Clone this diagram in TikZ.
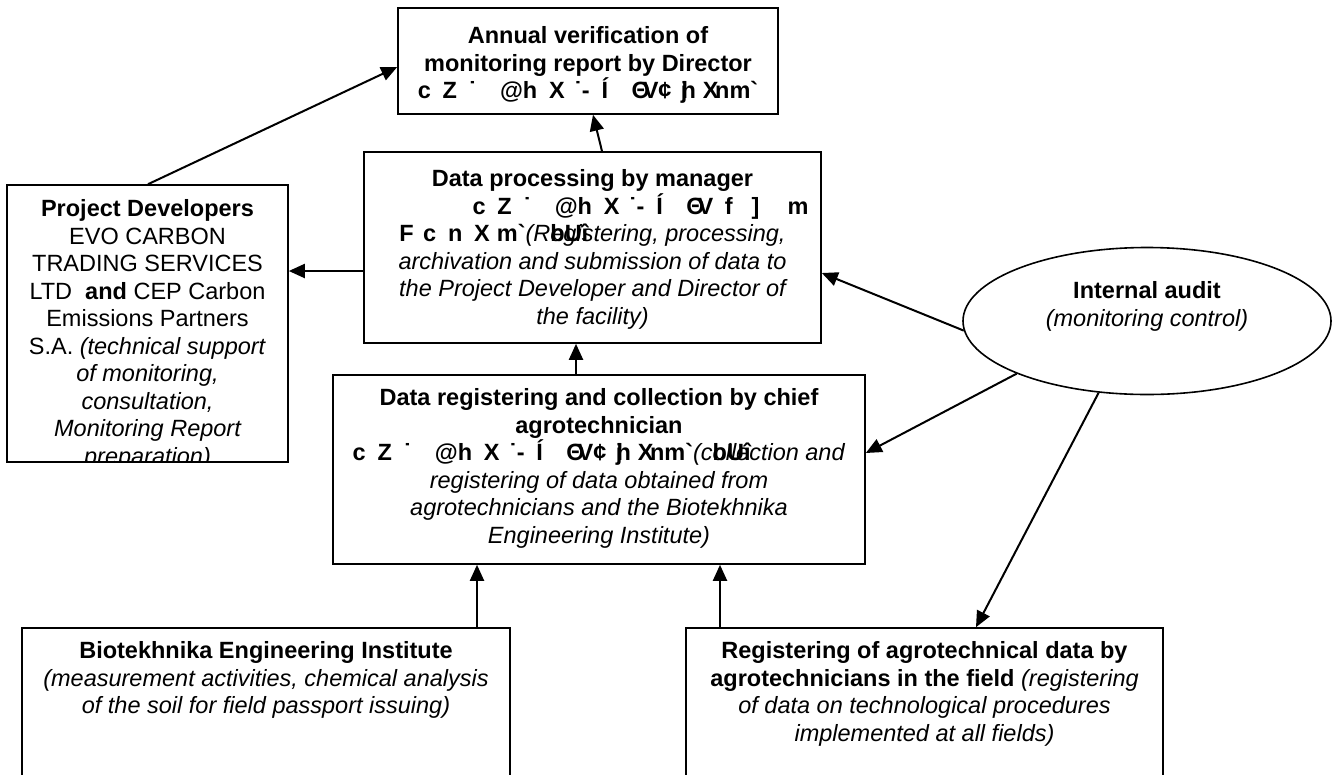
\documentclass[tikz,border=0pt]{standalone}
\usepackage{fontspec}
\setmainfont{Liberation Sans}
\newfontfamily\gfont{Liberation Sans}
\usetikzlibrary{shapes.geometric, arrows.meta, positioning}
\definecolor{inkblack}{HTML}{000000}

\tikzstyle{box} = [
  rectangle, draw=inkblack, line width=1.6pt, inner sep=0pt
]
\tikzstyle{oval} = [
  ellipse, draw=inkblack, line width=1.6pt, inner sep=0pt
]
\tikzstyle{boxtext} = [
  align=center, inner sep=0pt, anchor=north,
  font=\fontsize{23.5}{27.5}\selectfont
]
\tikzstyle{arrow} = [
  -{Triangle[length=16pt,width=14pt]}, line width=2pt, color=inkblack
]

% garbled code-page text as it is printed
\newcommand{\garbhead}{c\hspace{0.5em}Z\hspace{0.5em}˙\hspace{1em}@h\hspace{0.5em}X\hspace{0.4em}˙-\hspace{0.5em}Í\hspace{1em}Θ\kern-0.3em V}
\newcommand{\garbtail}{¢\hspace{0.4em}j\kern-0.25em h\hspace{0.3em}X\kern-0.15em nm`}

\begin{document}
\begin{tikzpicture}[x=1pt, y=-1pt]

  \path[use as bounding box, fill=white] (0,0) rectangle (1338,774);

  % ── Boxes ─────────────────────────────────────────────
  \node[box, minimum width=380pt, minimum height=106pt] (annual) at (588,61) {};
  \node[box, minimum width=457pt, minimum height=191pt] (dp) at (592.5,247.5) {};
  \node[box, minimum width=281pt, minimum height=277pt] (pd) at (147.5,323.5) {};
  \node[box, minimum width=532pt, minimum height=189pt] (dr) at (599,469.5) {};
  \node[oval, minimum width=368pt, minimum height=147pt] (audit) at (1147,321) {};
  \node[box, minimum width=488pt, minimum height=172pt] (bio) at (266,714) {};
  \node[box, minimum width=477pt, minimum height=172pt] (reg) at (924.5,714) {};

  % ── Texts ─────────────────────────────────────────────
  \node[boxtext] (annualtxt) at (annual.north |- 0,26.5)
    {\bfseries Annual verification of\\
     \bfseries monitoring report by Director\\
     {\gfont\bfseries\garbhead\garbtail}};

  \node[boxtext] (dptxt) at (dp.north |- 0,169.5)
    {\bfseries Data processing by manager\\
     \hspace*{96pt}{\gfont\bfseries\garbhead\hspace{0.5em}f\hspace{0.8em}]\hspace{1.2em}m}\\
     {\gfont\bfseries F\hspace{0.4em}c\hspace{0.5em}n\hspace{0.5em}X\hspace{0.3em}m`}\textit{(R\rlap{\gfont\bfseries\upshape bUî}egistering, processing,}\\
     \itshape archivation and submission of data to\\
     \itshape the Project Developer and Director of\\
     \itshape the facility)};

  \begin{scope}
    \clip (pd.north west) rectangle (pd.south east);
    \node[boxtext] (pdtxt) at (pd.north |- 0,199.5)
      {\bfseries Project Developers\\
       EVO CARBON\\
       TRADING SERVICES\\
       LTD~~\textbf{and} CEP Carbon\\
       Emissions Partners\\
       S.A. \textit{(technical support}\\
       \itshape of monitoring,\\
       \itshape consultation,\\
       \itshape Monitoring Report\\
       \itshape preparation)};
  \end{scope}

  \node[boxtext] (drtxt) at (dr.north |- 0,388.5)
    {\bfseries Data registering and collection by chief\\
     \bfseries agrotechnician\\
     {\gfont\bfseries\garbhead\garbtail}\textit{(c\rlap{\gfont\bfseries\upshape bUî}ollection and}\\
     \itshape registering of data obtained from\\
     \itshape agrotechnicians and the Biotekhnika\\
     \itshape Engineering Institute)};

  \node[boxtext] (audittxt) at (audit.center |- 0,281.5)
    {\bfseries Internal audit\\
     \itshape (monitoring control)};

  \node[boxtext] (biotxt) at (bio.north |- 0,641.5)
    {\bfseries Biotekhnika Engineering Institute\\
     \itshape (measurement activities, chemical analysis\\
     \itshape of the soil for field passport issuing)};

  \node[boxtext] (regtxt) at (reg.north |- 0,641.5)
    {\bfseries Registering of agrotechnical data by\\
     \textbf{agrotechnicians in the field} \textit{(registering}\\
     \itshape of data on technological procedures\\
     \itshape implemented at all fields)};

  % ── Arrows ────────────────────────────────────────────
  \draw[arrow] (pd.north -| 148,0) -- (annual.west |- 0,67);
  \draw[arrow] (dp.north -| 602,0) -- (annual.south -| 593,0);
  \draw[arrow] (dp.west |- 0,271) -- (pd.east |- 0,271);
  \draw[arrow] (dr.north -| 576,0) -- (dp.south -| 576,0);

  \draw[arrow] (audit.183) -- (dp.east |- 0,273);
  \draw[arrow] (audit.202.5) -- (dr.east |- 0,453);
  \draw[arrow] (audit.236) -- (reg.north -| 976,0);

  \draw[arrow] (bio.north -| 477,0) -- (dr.south -| 477,0);
  \draw[arrow] (reg.north -| 720,0) -- (dr.south -| 720,0);

\end{tikzpicture}
\end{document}
